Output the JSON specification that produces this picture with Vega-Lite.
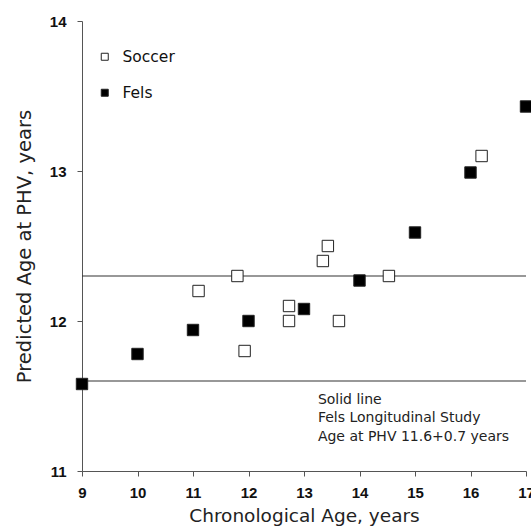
{
  "$schema": "https://vega.github.io/schema/vega-lite/v6.json",
  "width": 444,
  "height": 450,
  "autosize": {"type": "none"},
  "padding": {"left": 82, "top": 21, "right": 5, "bottom": 61},
  "background": "white",
  "config": {
    "view": {"stroke": null},
    "font": "DejaVu Sans"
  },
  "layer": [
    {
      "data": {"values": [{"ref": 12.3}, {"ref": 11.6}]},
      "mark": {"type": "rule", "color": "#333333", "strokeWidth": 1.2},
      "encoding": {
        "y": {"field": "ref", "type": "quantitative"}
      }
    },
    {
      "data": {"values": [
        {"line": "Solid line", "x": 13.25, "y": 11.473},
        {"line": "Fels Longitudinal Study", "x": 13.25, "y": 11.353},
        {"line": "Age at PHV 11.6+0.7 years", "x": 13.25, "y": 11.227}
      ]},
      "mark": {"type": "text", "align": "left", "baseline": "middle", "fontSize": 14, "font": "DejaVu Sans", "color": "#222222"},
      "encoding": {
        "x": {"field": "x", "type": "quantitative"},
        "y": {"field": "y", "type": "quantitative"},
        "text": {"field": "line"}
      }
    },
    {
      "data": {"values": [
        {"group": "Soccer", "age": 11.1, "phv": 12.2},
        {"group": "Soccer", "age": 11.8, "phv": 12.3},
        {"group": "Soccer", "age": 11.93, "phv": 11.8},
        {"group": "Soccer", "age": 12.73, "phv": 12.1},
        {"group": "Soccer", "age": 12.73, "phv": 12.0},
        {"group": "Soccer", "age": 13.34, "phv": 12.4},
        {"group": "Soccer", "age": 13.43, "phv": 12.5},
        {"group": "Soccer", "age": 13.63, "phv": 12.0},
        {"group": "Soccer", "age": 14.53, "phv": 12.3},
        {"group": "Soccer", "age": 16.2, "phv": 13.1},
        {"group": "Fels", "age": 9, "phv": 11.58},
        {"group": "Fels", "age": 10, "phv": 11.78},
        {"group": "Fels", "age": 11, "phv": 11.94},
        {"group": "Fels", "age": 12, "phv": 12.0},
        {"group": "Fels", "age": 13, "phv": 12.08},
        {"group": "Fels", "age": 14, "phv": 12.27},
        {"group": "Fels", "age": 15, "phv": 12.59},
        {"group": "Fels", "age": 16, "phv": 12.99},
        {"group": "Fels", "age": 17, "phv": 13.43}
      ]},
      "mark": {"type": "point", "shape": "square", "filled": true, "size": 130, "stroke": "#222222", "strokeWidth": 1, "opacity": 1, "clip": false},
      "encoding": {
        "x": {
          "field": "age", "type": "quantitative",
          "scale": {"domain": [9, 17], "nice": false, "zero": false},
          "axis": {
            "title": "Chronological Age, years",
            "values": [9, 10, 11, 12, 13, 14, 15, 16, 17],
            "format": "d",
            "grid": false,
            "domainColor": "#555555",
            "tickColor": "#555555",
            "tickSize": 5,
            "labelFont": "Liberation Sans",
            "labelFontWeight": "bold",
            "labelFontSize": 15,
            "labelColor": "#111111",
            "labelPadding": 9,
            "labelFlush": false,
            "titleFont": "DejaVu Sans",
            "titleFontWeight": "normal",
            "titleFontSize": 18.5,
            "titleColor": "#222222",
            "titlePadding": 6
          }
        },
        "y": {
          "field": "phv", "type": "quantitative",
          "scale": {"domain": [11, 14], "nice": false, "zero": false},
          "axis": {
            "title": "Predicted Age at PHV, years",
            "values": [11, 12, 13, 14],
            "format": "d",
            "grid": false,
            "domainColor": "#555555",
            "tickColor": "#555555",
            "tickSize": 5,
            "labelFont": "Liberation Sans",
            "labelFontWeight": "bold",
            "labelFontSize": 15,
            "labelColor": "#111111",
            "labelPadding": 11,
            "labelFlush": false,
            "titleFont": "DejaVu Sans",
            "titleFontWeight": "normal",
            "titleFontSize": 19.5,
            "titleColor": "#222222",
            "titlePadding": 15
          }
        },
        "fill": {
          "field": "group", "type": "nominal",
          "scale": {"domain": ["Soccer", "Fels"], "range": ["#ffffff", "#000000"]},
          "legend": {
            "title": null,
            "orient": "none",
            "legendX": 15,
            "legendY": 28,
            "symbolType": "square",
            "symbolSize": 49,
            "symbolStrokeColor": "#222222",
            "symbolStrokeWidth": 1,
            "labelFont": "DejaVu Sans",
            "labelFontSize": 15.5,
            "labelColor": "#111111",
            "labelOffset": 10,
            "rowPadding": 19
          }
        }
      }
    }
  ]
}
